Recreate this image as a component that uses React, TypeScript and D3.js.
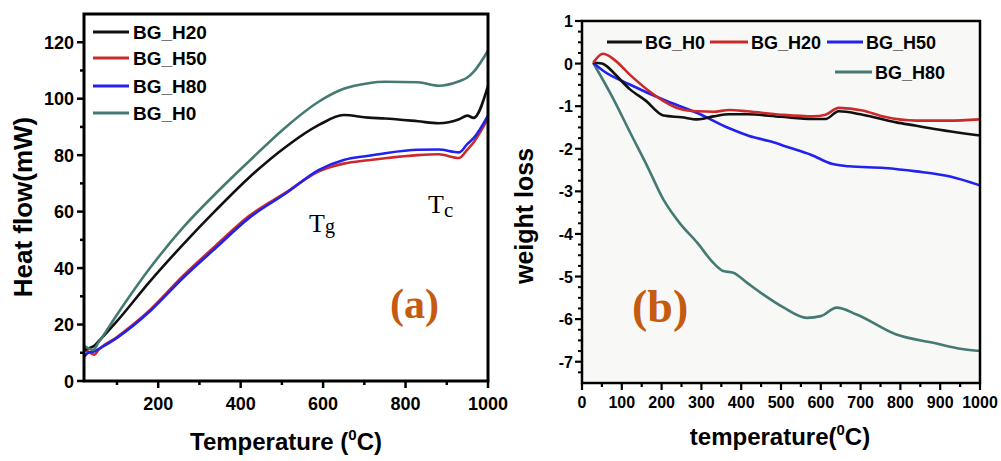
import React from 'react';
import * as d3 from 'd3';

type Pt = [number, number];

// ---------- Panel (a): DSC heat flow ----------
const leftXTicks = [200, 400, 600, 800, 1000];
const leftXMinor = [100, 300, 500, 700, 900];
const leftYTicks = [0, 20, 40, 60, 80, 100, 120];
const leftYMinor = [10, 30, 50, 70, 90, 110];

const leftH0: Pt[] = [[20, 12.5], [30, 11.6], [42, 11.0], [55, 13.6], [100, 23.5], [180, 40], [260, 54.3], [340, 66.5], [420, 77.8], [510, 90], [590, 99], [650, 103.5], [710, 105.5], [750, 106], [830, 105.8], [880, 104.6], [930, 106.2], [950, 107.5], [965, 109.5], [1000, 117]];
const leftH20: Pt[] = [[20, 11], [30, 11.5], [45, 12.5], [55, 14], [100, 21.2], [180, 35.3], [260, 48.3], [340, 60.5], [420, 72], [510, 83], [590, 90.7], [650, 94.2], [710, 93.3], [750, 93], [830, 92], [880, 91.3], [930, 92.7], [950, 94], [965, 93.2], [1000, 104.5]];
const leftH50: Pt[] = [[20, 11], [30, 10.5], [45, 9.3], [55, 11], [100, 15.6], [180, 25.2], [260, 37.2], [340, 48], [420, 58.4], [510, 66.8], [590, 74.3], [650, 77], [710, 78.2], [750, 78.9], [830, 80], [880, 80.3], [930, 79], [950, 82], [965, 84.5], [1000, 93]];
const leftH80: Pt[] = [[20, 8.5], [30, 10], [45, 10.5], [55, 11.3], [100, 15.3], [180, 24.7], [260, 36.5], [340, 47.2], [420, 57.7], [510, 66.5], [590, 74.8], [650, 78.3], [710, 79.8], [750, 80.7], [830, 81.9], [880, 82], [930, 81], [950, 84], [965, 86], [1000, 94]];

const leftLegend = ['BG_H20', 'BG_H50', 'BG_H80', 'BG_H0'];

// ---------- Panel (b): weight loss ----------
const rightXTicks = [0, 100, 200, 300, 400, 500, 600, 700, 800, 900, 1000];
const rightXMinor = [50, 150, 250, 350, 450, 550, 650, 750, 850, 950];
const rightYTicks = [-7, -6, -5, -4, -3, -2, -1, 0, 1];
const rightYMinor = [-7.25, -6.75, -6.5, -6.25, -5.75, -5.5, -5.25, -4.75, -4.5, -4.25, -3.75, -3.5, -3.25, -2.75, -2.5, -2.25, -1.75, -1.5, -1.25, -0.75, -0.5, -0.25, 0.25, 0.5, 0.75];

const rightH0: Pt[] = [[28, 0.02], [50, 0.0], [62, -0.06], [80, -0.22], [120, -0.6], [160, -0.87], [205, -1.22], [250, -1.26], [290, -1.31], [330, -1.24], [370, -1.19], [415, -1.19], [500, -1.25], [580, -1.3], [612, -1.3], [645, -1.12], [705, -1.2], [790, -1.38], [840, -1.46], [875, -1.52], [1000, -1.69]];
const rightH20: Pt[] = [[28, 0.02], [53, 0.23], [80, 0.1], [120, -0.26], [165, -0.62], [205, -0.88], [245, -1.06], [290, -1.12], [330, -1.13], [370, -1.09], [415, -1.12], [500, -1.2], [580, -1.24], [612, -1.2], [645, -1.04], [705, -1.1], [760, -1.25], [840, -1.34], [920, -1.34], [1000, -1.31]];
const rightH50: Pt[] = [[28, 0.02], [55, -0.18], [120, -0.49], [205, -0.85], [290, -1.16], [370, -1.52], [420, -1.7], [470, -1.82], [520, -1.97], [575, -2.14], [630, -2.36], [670, -2.41], [760, -2.45], [840, -2.53], [925, -2.65], [1000, -2.86]];
const rightH80: Pt[] = [[28, 0.02], [80, -0.85], [120, -1.6], [165, -2.43], [205, -3.2], [245, -3.74], [290, -4.21], [330, -4.68], [355, -4.87], [380, -4.91], [415, -5.15], [455, -5.42], [505, -5.72], [565, -5.97], [600, -5.93], [640, -5.73], [690, -5.89], [790, -6.36], [885, -6.56], [955, -6.7], [1000, -6.75]];

const rightLegend = ['BG_H0', 'BG_H20', 'BG_H50', 'BG_H80'];

const BLACK = '#111111';
const RED = '#cc2a2a';
const BLUE = '#2222ee';
const TEAL = '#457a72';
const ORANGE = '#c55a11';
const SANS = '"Liberation Sans", Arial, sans-serif';
const SERIF = '"Liberation Serif", "Times New Roman", serif';

export default function App() {
  // left scales
  const lx = d3.scaleLinear().domain([20, 1000]).range([84, 488]);
  const ly = d3.scaleLinear().domain([0, 130]).range([381, 14]);
  const lLine = d3.line<Pt>().x(d => lx(d[0])).y(d => ly(d[1])).curve(d3.curveMonotoneX);

  // right scales
  const rx = d3.scaleLinear().domain([0, 1000]).range([582, 980]);
  const ry = d3.scaleLinear().domain([-7.5, 1]).range([383, 21]);
  const rLine = d3.line<Pt>().x(d => rx(d[0])).y(d => ry(d[1])).curve(d3.curveMonotoneX);

  const leftColors = [BLACK, RED, BLUE, TEAL];
  const leftRows = [32, 58, 86, 113];
  const rightColors = [BLACK, RED, BLUE, TEAL];
  const rightLeg = [
    { x1: 607, x2: 642, tx: 645, y: 42 },
    { x1: 710, x2: 748, tx: 751, y: 42 },
    { x1: 827, x2: 863, tx: 866, y: 42 },
    { x1: 835, x2: 872, tx: 875, y: 72 },
  ];

  return (
    <svg width={1001} height={461} style={{ position: 'absolute', left: 0, top: 0, background: '#fff' }}>
      <rect x={0} y={0} width={1001} height={461} fill="#ffffff" />

      {/* ================= Panel (a) ================= */}
      <g>
        {leftXTicks.map(t => (
          <g key={'lxt' + t}>
            <line x1={lx(t)} x2={lx(t)} y1={381} y2={388} stroke="#000" strokeWidth={2.5} />
            <text x={lx(t)} y={410} textAnchor="middle" fontFamily={SANS} fontWeight="bold" fontSize={18}>{t}</text>
          </g>
        ))}
        {leftXMinor.map(t => (
          <line key={'lxm' + t} x1={lx(t)} x2={lx(t)} y1={381} y2={385} stroke="#000" strokeWidth={2.5} />
        ))}
        {leftYTicks.map(t => (
          <g key={'lyt' + t}>
            <line x1={77} x2={84} y1={ly(t)} y2={ly(t)} stroke="#000" strokeWidth={2.5} />
            <text x={74} y={ly(t) + 6.5} textAnchor="end" fontFamily={SANS} fontWeight="bold" fontSize={18}>{t}</text>
          </g>
        ))}
        {leftYMinor.map(t => (
          <line key={'lym' + t} x1={80} x2={84} y1={ly(t)} y2={ly(t)} stroke="#000" strokeWidth={2.5} />
        ))}

        <path d={lLine(leftH50) || ''} fill="none" stroke={RED} strokeWidth={2.6} />
        <path d={lLine(leftH80) || ''} fill="none" stroke={BLUE} strokeWidth={2.6} />
        <path d={lLine(leftH20) || ''} fill="none" stroke={BLACK} strokeWidth={2.6} />
        <path d={lLine(leftH0) || ''} fill="none" stroke={TEAL} strokeWidth={2.6} />

        <rect x={84} y={14} width={404} height={367} fill="none" stroke="#000" strokeWidth={3} />

        {leftLegend.map((name, i) => (
          <g key={'ll' + name}>
            <line x1={93} x2={129} y1={leftRows[i]} y2={leftRows[i]} stroke={leftColors[i]} strokeWidth={3.2} />
            <text x={133} y={leftRows[i] + 7} fontFamily={SANS} fontWeight="bold" fontSize={19}>{name}</text>
          </g>
        ))}

        <text x={309} y={232} fontFamily={SERIF} fontSize={26}>T<tspan fontSize={20} dy={1}>g</tspan></text>
        <text x={428} y={213} fontFamily={SERIF} fontSize={26}>T<tspan fontSize={21} dy={3.5}>c</tspan></text>
        <text x={390} y={318} fontFamily={SERIF} fontWeight="bold" fontSize={42} fill={ORANGE}>(a)</text>

        <text transform="translate(32,207) rotate(-90)" textAnchor="middle" fontFamily={SANS} fontWeight="bold" fontSize={26}>Heat flow(mW)</text>
        <text x={286} y={450} textAnchor="middle" fontFamily={SANS} fontWeight="bold" fontSize={24}>
          Temperature (<tspan fontSize={15} dy={-10}>0</tspan><tspan dy={10}>C)</tspan>
        </text>
      </g>

      {/* ================= Panel (b) ================= */}
      <g>
        <rect x={582} y={21} width={398} height={362} fill="#f8f8f6" />
        {rightXTicks.map(t => (
          <g key={'rxt' + t}>
            <line x1={rx(t)} x2={rx(t)} y1={383} y2={390} stroke="#000" strokeWidth={2.2} />
            <text x={rx(t)} y={408} textAnchor="middle" fontFamily={SANS} fontWeight="bold" fontSize={16}>{t}</text>
          </g>
        ))}
        {rightXMinor.map(t => (
          <line key={'rxm' + t} x1={rx(t)} x2={rx(t)} y1={383} y2={387} stroke="#000" strokeWidth={2.2} />
        ))}
        {rightYTicks.map(t => (
          <g key={'ryt' + t}>
            <line x1={575} x2={582} y1={ry(t)} y2={ry(t)} stroke="#000" strokeWidth={2.2} />
            <text x={573} y={ry(t) + 6} textAnchor="end" fontFamily={SANS} fontWeight="bold" fontSize={16}>{t}</text>
          </g>
        ))}
        {rightYMinor.map(t => (
          <line key={'rym' + t} x1={578} x2={582} y1={ry(t)} y2={ry(t)} stroke="#000" strokeWidth={2} />
        ))}

        <path d={rLine(rightH80) || ''} fill="none" stroke={TEAL} strokeWidth={2.6} />
        <path d={rLine(rightH50) || ''} fill="none" stroke={BLUE} strokeWidth={2.6} />
        <path d={rLine(rightH0) || ''} fill="none" stroke={BLACK} strokeWidth={2.6} />
        <path d={rLine(rightH20) || ''} fill="none" stroke={RED} strokeWidth={2.6} />

        <rect x={582} y={21} width={398} height={362} fill="none" stroke="#000" strokeWidth={2.5} />

        {rightLegend.map((name, i) => (
          <g key={'rl' + name}>
            <line x1={rightLeg[i].x1} x2={rightLeg[i].x2} y1={rightLeg[i].y} y2={rightLeg[i].y} stroke={rightColors[i]} strokeWidth={3.2} />
            <text x={rightLeg[i].tx} y={rightLeg[i].y + 6.5} fontFamily={SANS} fontWeight="bold" fontSize={18}>{name}</text>
          </g>
        ))}

        <text x={632} y={322} fontFamily={SERIF} fontWeight="bold" fontSize={46} fill={ORANGE}>(b)</text>

        <text transform="translate(533,216) rotate(-90)" textAnchor="middle" fontFamily={SANS} fontWeight="bold" fontSize={25}>weight loss</text>
        <text x={780} y={445} textAnchor="middle" fontFamily={SANS} fontWeight="bold" fontSize={24}>
          temperature(<tspan fontSize={15} dy={-10}>0</tspan><tspan dy={10}>C)</tspan>
        </text>
      </g>
    </svg>
  );
}
